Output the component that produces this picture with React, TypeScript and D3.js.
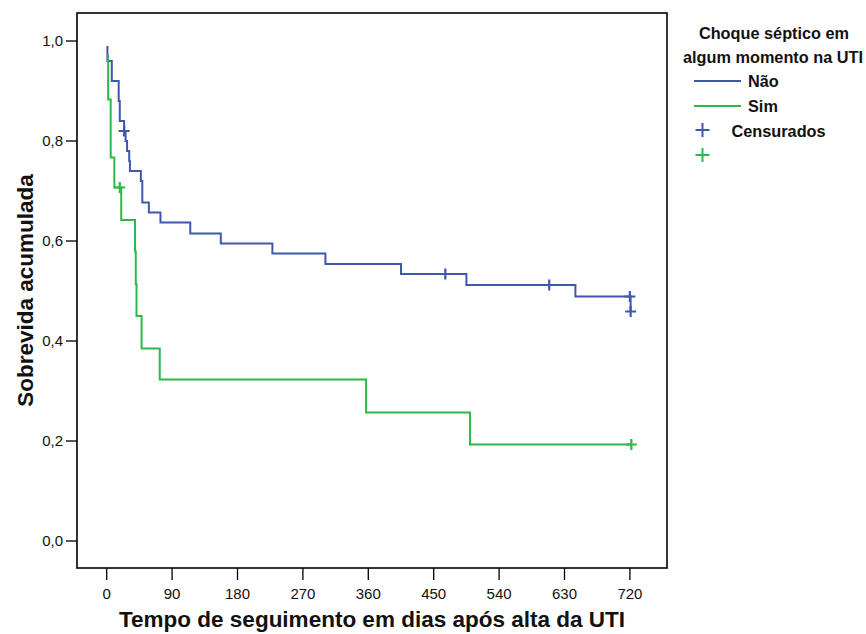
import React from 'react';
import * as d3 from 'd3';

// ---- data ----
const xTicks = [0, 90, 180, 270, 360, 450, 540, 630, 720];
const yTicks = [0, 0.2, 0.4, 0.6, 0.8, 1.0];

const naoTimes = [1, 1, 7, 16.5, 18, 24, 26, 28, 31, 32, 47, 49, 58, 74, 115, 157, 228, 301, 405, 495, 645, 721];
const naoSurv = [0.99, 0.96, 0.92, 0.88, 0.84, 0.82, 0.8, 0.78, 0.76, 0.74, 0.72, 0.677, 0.657, 0.637, 0.615, 0.595, 0.575, 0.554, 0.534, 0.512, 0.489, 0.459];
const naoCensored = [24, 466, 609, 720, 721];

const simTimes = [2, 2, 5.5, 10.5, 20, 39, 40, 41, 48, 73, 357, 500, 722];
const simSurv = [0.972, 0.883, 0.767, 0.707, 0.642, 0.579, 0.514, 0.45, 0.385, 0.323, 0.257, 0.193, 0.193];
const simCensored = [18, 722];

const legendTitle = ['Choque séptico em', 'algum momento na UTI'];
const seriesNames = ['Não', 'Sim'];
const censLabel = 'Censurados';
const xTitle = 'Tempo de seguimento em dias após alta da UTI';
const yTitle = 'Sobrevida acumulada';

const BLUE = '#3E58AC';
const GREEN = '#2EB848';
const FONT = '"Liberation Sans", Arial, Helvetica, sans-serif';

function survAt(times: number[], surv: number[], t: number) {
  let s = surv[0];
  for (let i = 0; i < times.length; i++) if (times[i] <= t) s = surv[i];
  return s;
}

export default function App() {
  const W = 866, H = 634;
  const frame = { left: 77, top: 13, right: 667, bottom: 568 };
  const x = d3.scaleLinear().domain([0, 720]).range([106.7, 629.9]);
  const y = d3.scaleLinear().domain([0, 1]).range([541, 41]);
  const line = d3
    .line<[number, number]>()
    .x((d) => x(d[0]))
    .y((d) => y(d[1]))
    .curve(d3.curveStepAfter);
  const fmt = (v: number) => d3.format('.1f')(v).replace('.', ',');
  const cross = (cx: number, cy: number, r = 5.5) =>
    `M${cx - r},${cy}H${cx + r}M${cx},${cy - r}V${cy + r}`;

  const series = [
    { times: naoTimes, surv: naoSurv, cens: naoCensored, color: BLUE },
    { times: simTimes, surv: simSurv, cens: simCensored, color: GREEN },
  ];

  return (
    <svg
      width={W}
      height={H}
      style={{ position: 'absolute', left: 0, top: 0, background: '#fff' }}
      fontFamily={FONT}
    >
      <rect x={0} y={0} width={W} height={H} fill="#fff" />
      {/* frame */}
      <rect
        x={frame.left}
        y={frame.top}
        width={frame.right - frame.left}
        height={frame.bottom - frame.top}
        fill="none"
        stroke="#000"
        strokeWidth={1.6}
      />
      {/* y axis ticks */}
      {yTicks.map((v) => (
        <g key={'y' + v}>
          <line x1={frame.left - 11} x2={frame.left} y1={y(v)} y2={y(v)} stroke="#000" strokeWidth={1.3} />
          <text x={frame.left - 14} y={y(v)} dy="0.35em" textAnchor="end" fontSize={15} fill="#111">
            {fmt(v)}
          </text>
        </g>
      ))}
      {/* x axis ticks */}
      {xTicks.map((v) => (
        <g key={'x' + v}>
          <line x1={x(v)} x2={x(v)} y1={frame.bottom} y2={frame.bottom + 12} stroke="#000" strokeWidth={1.3} />
          <text x={x(v)} y={599} textAnchor="middle" fontSize={15} fill="#111">
            {v}
          </text>
        </g>
      ))}
      {/* axis titles */}
      <text x={(frame.left + frame.right) / 2} y={627} textAnchor="middle" fontSize={22.5} fontWeight="bold" fill="#111">
        {xTitle}
      </text>
      <text
        transform={`translate(33,${(frame.top + frame.bottom) / 2}) rotate(-90)`}
        textAnchor="middle"
        fontSize={22.5}
        fontWeight="bold"
        fill="#111"
      >
        {yTitle}
      </text>
      {/* curves */}
      {series.map((s, i) => {
        const pts = s.times.map((t, j) => [t, s.surv[j]] as [number, number]);
        return (
          <g key={'s' + i}>
            <path d={line(pts) || ''} fill="none" stroke={s.color} strokeWidth={2} />
            {s.cens.map((t, k) => (
              <path
                key={k}
                d={cross(x(t), y(survAt(s.times, s.surv, t)))}
                stroke={s.color}
                strokeWidth={2.2}
                fill="none"
              />
            ))}
          </g>
        );
      })}
      {/* legend */}
      <g fontWeight="bold" fontSize={16.3} fill="#111">
        <text x={774} y={38.5} textAnchor="middle">{legendTitle[0]}</text>
        <text x={773} y={62.5} textAnchor="middle">{legendTitle[1]}</text>
        <line x1={694} x2={741} y1={81} y2={81} stroke={BLUE} strokeWidth={2} />
        <text x={748} y={86.5}>{seriesNames[0]}</text>
        <line x1={694} x2={741} y1={106} y2={106} stroke={GREEN} strokeWidth={2} />
        <text x={748} y={111.5}>{seriesNames[1]}</text>
        <path d={cross(702.5, 130, 7)} stroke={BLUE} strokeWidth={2} fill="none" />
        <text x={731.5} y={136.5}>{censLabel}</text>
        <path d={cross(702.5, 155, 7)} stroke={GREEN} strokeWidth={2} fill="none" />
      </g>
    </svg>
  );
}
